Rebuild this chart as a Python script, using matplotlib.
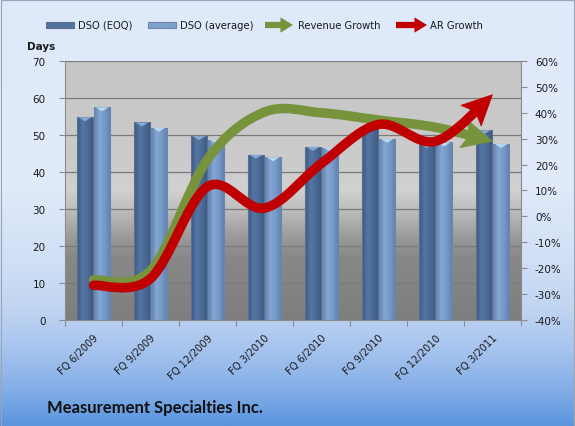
import numpy as np
import matplotlib
matplotlib.use("Agg")
import matplotlib.pyplot as plt
from matplotlib.path import Path
from matplotlib.patches import FancyArrowPatch, ArrowStyle, Rectangle, Polygon, PathPatch
from matplotlib.colors import LinearSegmentedColormap
from matplotlib.ticker import FuncFormatter
from matplotlib.transforms import ScaledTranslation, IdentityTransform

# ---------------- data ----------------
categories = ["FQ 6/2009", "FQ 9/2009", "FQ 12/2009", "FQ 3/2010",
              "FQ 6/2010", "FQ 9/2010", "FQ 12/2010", "FQ 3/2011"]
dso_eoq = [54.8, 53.4, 49.7, 44.7, 46.8, 52.5, 47.5, 51.3]
dso_avg = [57.5, 52.0, 48.7, 44.0, 46.6, 49.0, 48.0, 47.6]
revenue_growth = [-24.5, -21.0, 22.0, 40.3, 40.0, 37.2, 34.4, 29.0]   # %
ar_growth = [-26.6, -24.0, 11.5, 3.2, 20.5, 35.5, 29.0, 47.0]         # %
days_ticks = [0, 10, 20, 30, 40, 50, 60, 70]
pct_ticks = [-40, -30, -20, -10, 0, 10, 20, 30, 40, 50, 60]

W, H = 575, 427
DPI = 100
fig = plt.figure(figsize=(W / DPI, H / DPI), dpi=DPI)

# ---------- figure background gradient ----------
bg = fig.add_axes([0, 0, 1, 1], zorder=-10)
bg_cmap = LinearSegmentedColormap.from_list(
    "bg", [(0.0, "#dee9fa"), (0.42, "#e2ebfa"), (0.60, "#d2e0f6"), (0.72, "#c2d6f2"),
           (0.83, "#a4c2ee"), (0.92, "#82ade6"), (1.0, "#5a95de")])
grad = np.linspace(0, 1, 256).reshape(-1, 1)
bg.imshow(grad, aspect="auto", cmap=bg_cmap, extent=[0, 1, 0, 1], origin="upper")
bg.set_xlim(0, 1); bg.set_ylim(0, 1)
bg.axis("off")
fig.patches.append(Rectangle((0.001, 0.001), 0.997, 0.997, transform=fig.transFigure,
                             fill=False, edgecolor="#9aa6b8", lw=0.8))

# ---------- main axes ----------
left, right, top, bottom = 65, 521, 62, 321
ax = fig.add_axes([left / W, 1 - bottom / H, (right - left) / W, (bottom - top) / H])
ax.set_xlim(-0.5, len(categories) - 0.5)
ax.set_ylim(0, 70)

pa_cmap = LinearSegmentedColormap.from_list(
    "pa", [(0.0, "#c6c6c6"), (0.38, "#cbcbcb"), (0.50, "#d1d1d1"),
           (0.58, "#bcbcbc"), (0.68, "#9a9a9a"), (0.76, "#888888"), (1.0, "#7e7e7e")])
ax.imshow(grad, aspect="auto", cmap=pa_cmap, extent=[0, 1, 0, 1],
          transform=ax.transAxes, zorder=0.1, origin="upper")
ax.patch.set_visible(False)

ax.set_yticks(days_ticks)
ax.yaxis.grid(True, color="#7a7a7a", lw=0.9)
ax.set_axisbelow(True)

x = np.arange(len(categories))
bw = 0.285
off = 0.15
dark_cmap = LinearSegmentedColormap.from_list("dk", ["#3b5a84", "#5476a3", "#4a6a95", "#3a5780"])
light_cmap = LinearSegmentedColormap.from_list("lt", ["#5f82b2", "#85a7d3", "#7597c6", "#5d80af"])
hgrad = np.linspace(0, 1, 64).reshape(1, -1)


def gradient_bars(xpos, vals, cmap, edge, cap):
    bars = ax.bar(xpos, vals, width=bw, color="none", edgecolor=edge, lw=0.8, zorder=2)
    for r in bars:
        x0, y0, w, h = r.get_x(), r.get_y(), r.get_width(), r.get_height()
        im = ax.imshow(hgrad, aspect="auto", cmap=cmap, extent=[x0, x0 + w, y0, y0 + h],
                       zorder=1.5, origin="lower")
        im.set_clip_path(r)
        ch = 1.1
        tri = Polygon([[x0 + 0.1 * w, y0 + h], [x0 + 0.9 * w, y0 + h],
                       [x0 + 0.5 * w, y0 + h - ch]], closed=True,
                      facecolor=cap, edgecolor="none", zorder=2.2, alpha=0.9)
        ax.add_patch(tri)
    return bars


gradient_bars(x - off, dso_eoq, dark_cmap, "#5c708c", "#8fb0d8")
gradient_bars(x + off, dso_avg, light_cmap, "#6d86a8", "#bfe0f8")
ax.set_xlim(-0.5, len(categories) - 0.5)
ax.set_ylim(0, 70)

# x ticks: marks at boundaries, labels at centres
ax.set_xticks(np.arange(-0.5, len(categories), 1))
ax.set_xticklabels([])
ax.set_xticks(x, minor=True)
ax.set_xticklabels(categories, minor=True, rotation=45, ha="right", va="top",
                   rotation_mode="anchor", fontsize=7.2, color="#1a1a1a")
shift = ScaledTranslation(-8 / 72, 0, fig.dpi_scale_trans)
for lab in ax.get_xticklabels(minor=True):
    lab.set_transform(lab.get_transform() + shift)
ax.tick_params(axis="x", which="major", length=4, color="#8c8c8c", direction="out")
ax.tick_params(axis="x", which="minor", length=0, pad=9)
ax.tick_params(axis="y", length=4, color="#8c8c8c", labelsize=7.5, pad=10, labelcolor="#1a1a1a")
for s in ax.spines.values():
    s.set_visible(False)
ax.spines["bottom"].set_visible(True)
ax.spines["bottom"].set_color("#8c8c8c")
ax.spines["left"].set_visible(True)
ax.spines["left"].set_color("#8c8c8c")

# ---------- secondary axis ----------
ax2 = ax.twinx()
ax2.set_ylim(-40, 60)
ax2.set_xlim(-0.5, len(categories) - 0.5)
ax2.set_yticks(pct_ticks)
ax2.yaxis.set_major_formatter(FuncFormatter(lambda v, p: f"{int(v)}%"))
ax2.tick_params(axis="y", length=4, color="#8c8c8c", labelsize=7.5, pad=6, labelcolor="#1a1a1a")
for s in ax2.spines.values():
    s.set_visible(False)
ax2.spines["right"].set_visible(True)
ax2.spines["right"].set_color("#8c8c8c")


def smooth_ctrl(xs, ys):
    pts = np.column_stack([xs, ys]).astype(float)
    n = len(pts)
    segs = []
    for i in range(n - 1):
        p0 = pts[max(i - 1, 0)]
        p1 = pts[i]
        p2 = pts[i + 1]
        p3 = pts[min(i + 2, n - 1)]
        c1 = p1 + (p2 - p0) / 6
        c2 = p2 - (p3 - p1) / 6
        segs.append([p1, c1, c2, p2])
    return segs


def bez(seg, t):
    p0, p1, p2, p3 = seg
    return ((1 - t) ** 3) * p0 + 3 * ((1 - t) ** 2) * t * p1 + 3 * (1 - t) * t * t * p2 + t ** 3 * p3


def split(seg, t):
    p0, p1, p2, p3 = [np.asarray(p) for p in seg]
    a = p0 + (p1 - p0) * t
    b = p1 + (p2 - p1) * t
    c = p2 + (p3 - p2) * t
    d = a + (b - a) * t
    e = b + (c - b) * t
    f = d + (e - d) * t
    return [p0, a, d, f]


fig.canvas.draw()
T = ax2.transData
head_len, head_half = 30.0, 14.5
line_px = 9.5
for vals, col in [(revenue_growth, "#77933c"), (ar_growth, "#c00000")]:
    segs = [[T.transform(p) for p in s] for s in smooth_ctrl(x, vals)]
    last = segs[-1]
    tip = last[3]
    ts = np.linspace(1, 0, 400)
    cut_t = 0.0
    for t in ts:
        if np.hypot(*(bez(last, t) - tip)) >= head_len * 0.6:
            cut_t = t
            break
    segs[-1] = split(last, cut_t)
    back = None
    for t in ts:
        if np.hypot(*(bez(last, t) - tip)) >= head_len:
            back = bez(last, t)
            break
    d = tip - back
    d = d / np.hypot(*d)
    nrm = np.array([-d[1], d[0]])
    verts = [segs[0][0]]
    codes = [Path.MOVETO]
    for s in segs:
        verts += [s[1], s[2], s[3]]
        codes += [Path.CURVE4] * 3
    pp = PathPatch(Path(np.array(verts), codes), facecolor="none", edgecolor=col,
                   lw=line_px * 72 / DPI, capstyle="round", joinstyle="round",
                   transform=IdentityTransform(), zorder=3)
    ax2.add_patch(pp)
    base = tip - d * head_len
    notch = tip - d * head_len * 0.8
    head = Polygon([tip, base + nrm * head_half, notch, base - nrm * head_half], closed=True,
                   facecolor=col, edgecolor=col, lw=0.5, transform=IdentityTransform(), zorder=3)
    ax2.add_patch(head)

# ---------- texts ----------
fig.text(27 / W, 1 - 47 / H, "Days", fontsize=7.5, fontweight="bold", va="center", ha="left",
         color="#1a1a1a")
fig.text(47 / W, 1 - 408 / H, "Measurement Specialties Inc.", fontsize=12, fontweight="bold",
         family="Lato", va="center", ha="left", color="#111111")

# ---------- legend ----------
ly = 1 - 26 / H
def legend_bar(x0, x1, cmap, edge):
    ph = 6 / H
    r = Rectangle((x0 / W, ly - ph / 2), (x1 - x0) / W, ph, transform=fig.transFigure,
                  facecolor=cmap(0.45), edgecolor=edge, lw=0.8)
    fig.patches.append(r)

lfs = 7.2
legend_bar(46, 74, dark_cmap, "#5c708c")
fig.text(78 / W, ly, "DSO (EOQ)", fontsize=lfs, va="center", ha="left", color="#1a1a1a")
legend_bar(148, 176, light_cmap, "#6d86a8")
fig.text(180 / W, ly, "DSO (average)", fontsize=lfs, va="center", ha="left", color="#1a1a1a")

def legend_arrow(x0, x1, col):
    a = FancyArrowPatch((x0 / W, ly), (x1 / W, ly), transform=fig.transFigure,
                        arrowstyle=ArrowStyle("simple", head_length=0.9, head_width=1.1, tail_width=0.45),
                        mutation_scale=10, color=col, lw=0, shrinkA=0, shrinkB=0)
    fig.patches.append(a)

legend_arrow(265, 293, "#77933c")
fig.text(298 / W, ly, "Revenue Growth", fontsize=lfs, va="center", ha="left", color="#1a1a1a")
legend_arrow(396, 427, "#c00000")
fig.text(430 / W, ly, "AR Growth", fontsize=lfs, va="center", ha="left", color="#1a1a1a")

fig.savefig("out.png", dpi=DPI)
